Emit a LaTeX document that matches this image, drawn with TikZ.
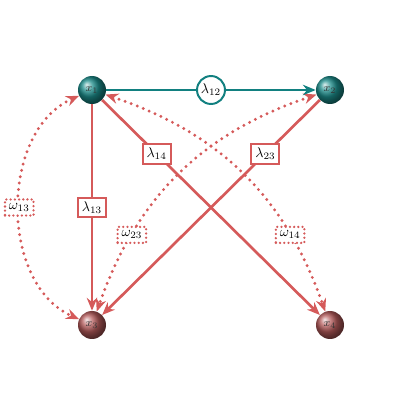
\documentclass[tikz,border=0pt]{standalone}
\usepackage{amsmath}
\usepackage{tikz}
\usetikzlibrary{arrows.meta}
\definecolor{latFill}{HTML}{1B8C8A}
\definecolor{latDraw}{HTML}{128080}
\definecolor{obsFill}{HTML}{B45A5A}
\definecolor{effDraw}{HTML}{D55A5A}
\tikzset{
  font=\normalsize,
  var/.style  ={circle, minimum size=7mm, inner sep=0pt, font=\footnotesize, text=black!80},
  lat/.style  ={var, ball color=latFill},
  obs/.style  ={var, ball color=obsFill},
  arr/.style  ={-{Stealth[length=3.2mm, width=2.6mm]}, line width=1.9pt, draw=effDraw},
  darr/.style ={{Stealth[length=3.2mm, width=2.6mm]}-{Stealth[length=3.2mm, width=2.6mm]}, line width=2.3pt, draw=effDraw,
                line cap=round, dash pattern=on 0pt off 4.6pt},
  lbox/.style ={draw=effDraw, fill=white, line width=1.4pt, inner sep=2.8pt, text=black},
  wbox/.style ={lbox, line cap=round, dash pattern=on 0pt off 3pt, line width=1.8pt},
  lcirc/.style={circle, draw=latDraw, fill=white, line width=1.4pt, inner sep=1.2pt, text=black},
}
\begin{document}
\begin{tikzpicture}
  \useasboundingbox (0,0) rectangle (10.5,10.5);
  % the four variables
  \node[lat] (x1) at (2.3,8.25)   {$x_1$};
  \node[lat] (x2) at (8.25,8.25)  {$x_2$};
  \node[obs] (x3) at (2.3,2.375)  {$x_3$};
  \node[obs] (x4) at (8.25,2.375) {$x_4$};

  % correlated errors (dotted, both ways)
  \draw[darr] (x1) to[bend right=66] node[wbox] {$\omega_{13}$} (x3);
  \draw[darr] (x1) to[bend left=26] node[wbox, pos=0.75] {$\omega_{14}$} (x4);
  \draw[darr] (x2) to[bend right=26] node[wbox, pos=0.75] {$\omega_{23}$} (x3);

  % directed effects
  \draw[arr, draw=latDraw] (x1) -- node[lcirc] {$\lambda_{12}$} (x2);
  \draw[arr] (x1) -- node[lbox] {$\lambda_{13}$} (x3);
  \draw[arr] (x1) -- node[lbox, pos=0.25] {$\lambda_{14}$} (x4);
  \draw[arr] (x2) -- node[lbox, pos=0.25] {$\lambda_{23}$} (x3);
\end{tikzpicture}
\end{document}
